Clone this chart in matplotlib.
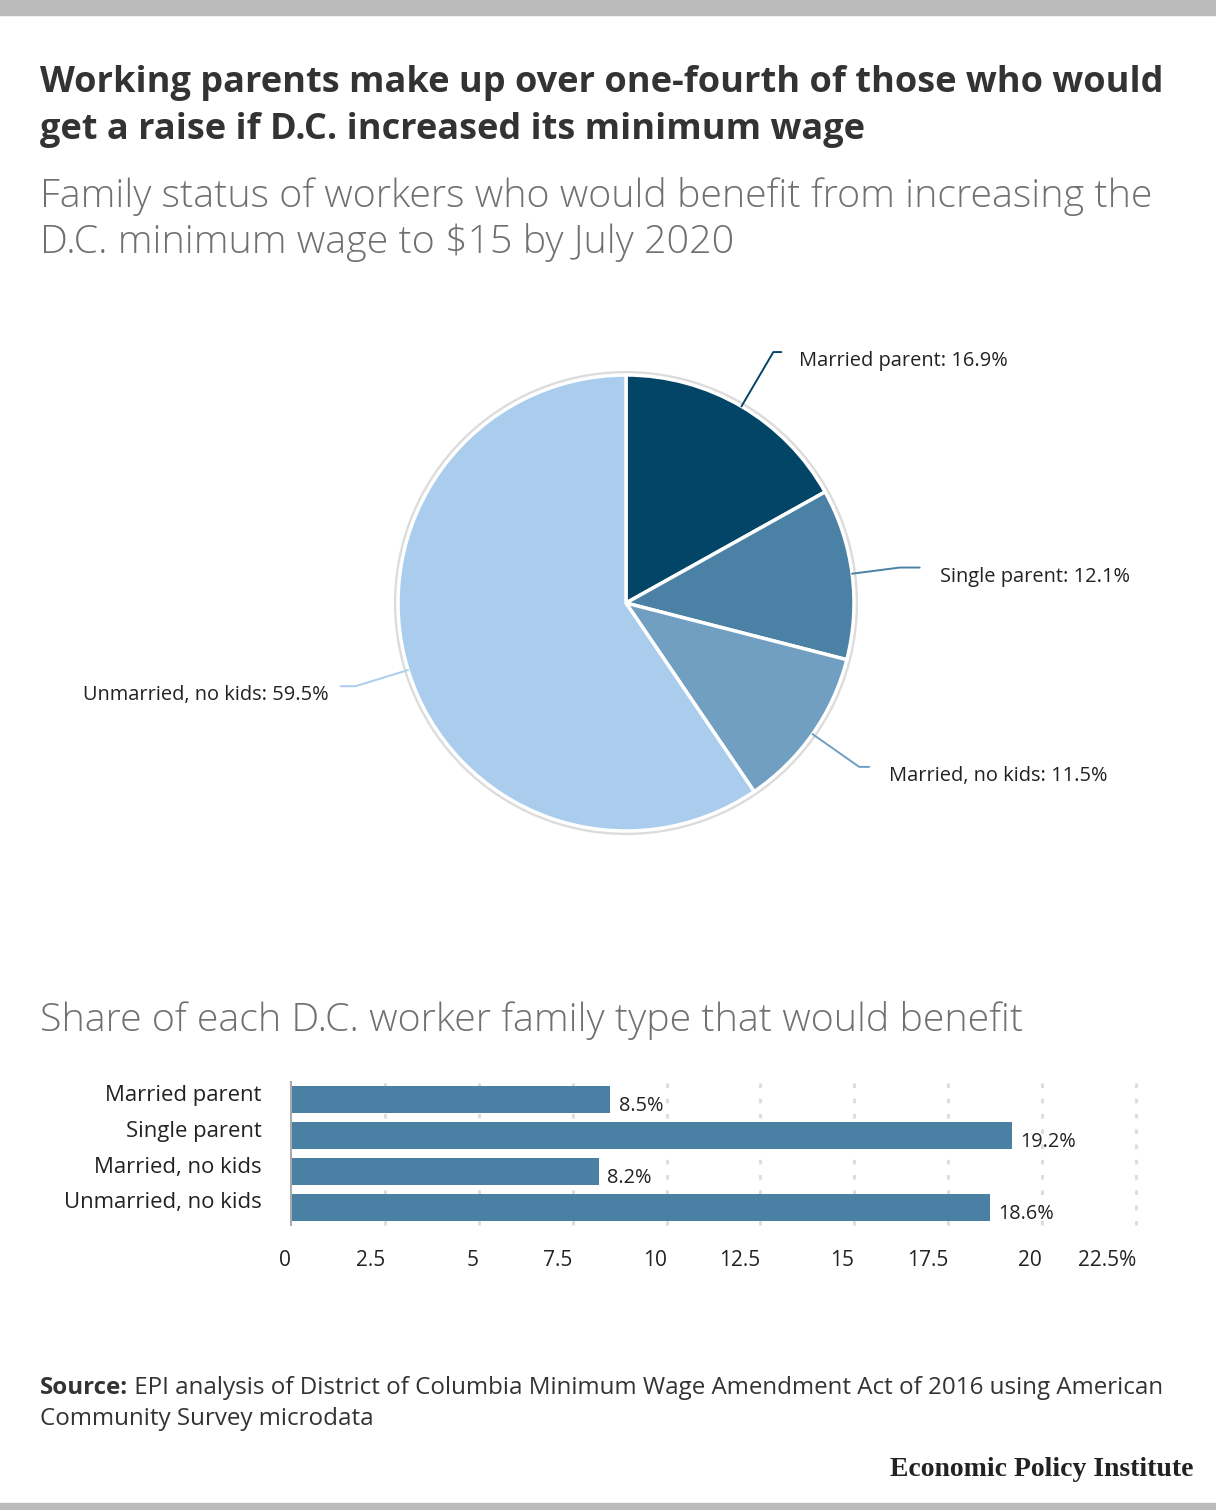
import numpy as np
import matplotlib
matplotlib.use("Agg")
import matplotlib.pyplot as plt
from matplotlib.patches import Circle, Rectangle
from matplotlib.transforms import ScaledTranslation

plt.rcParams["font.family"] = ["Open Sans", "DejaVu Sans"]

W, H = 1216, 1510

# pie: family status of benefiting workers
pie_labels = ["Married parent", "Single parent", "Married, no kids", "Unmarried, no kids"]
pie_values = [16.9, 12.1, 11.5, 59.5]
pie_colors = ["#034566", "#4b81a4", "#709fc2", "#aacdee"]

# bars: share of each family type that would benefit
bar_labels = ["Married parent", "Single parent", "Married, no kids", "Unmarried, no kids"]
bar_values = [8.5, 19.2, 8.2, 18.6]
x_ticks = [0, 2.5, 5, 7.5, 10, 12.5, 15, 17.5, 20, 22.5]
x_ticklabels = ["0", "2.5", "5", "7.5", "10", "12.5", "15", "17.5", "20", "22.5%"]


def fx(px):
    return px / W


def fy(py):
    return 1 - py / H


fig = plt.figure(figsize=(W / 100, H / 100), dpi=100)
bg = fig.add_axes([0, 0, 1, 1])
bg.set_xlim(0, W); bg.set_ylim(H, 0); bg.axis("off")
bg.add_patch(Rectangle((0, 0), W, 15, color="#bbbbbb"))
bg.add_patch(Rectangle((0, 1503), W, 7, color="#bbbbbb"))

# titles
title_kw = dict(fontsize=26, fontweight="bold", color="#333333", va="center")
bg.text(40, 83, "Working parents make up over one-fourth of those who would", **title_kw)
bg.text(40, 130, "get a raise if D.C. increased its minimum wage", **title_kw)
sub_kw = dict(fontsize=28.4, fontweight="light", color="#707070", va="center")
bg.text(40, 196, "Family status of workers who would benefit from increasing the", **sub_kw)
bg.text(40, 243, "D.C. minimum wage to $15 by July 2020", **sub_kw)
bg.text(40, 1020, "Share of each D.C. worker family type that would benefit", **sub_kw)

# pie
cx, cy, R = 626, 603, 228
half = 420
pax = fig.add_axes([fx(cx - half), fy(cy + half), 2 * half / W, 2 * half / H])
pax.add_patch(Circle((0, 0), R + 2, facecolor="none", edgecolor="#dcdcdc", lw=3, zorder=0))
wedges, _ = pax.pie(pie_values, colors=pie_colors, startangle=90, counterclock=False,
                    radius=R, wedgeprops=dict(edgecolor="white", linewidth=2.5))
pax.set_xlim(-half, half); pax.set_ylim(-half, half)
pax.set_aspect("equal"); pax.axis("off")

bend_r = [291, 276, 285, 283]
hooks = [8, 20, 10, 15]
gaps = [18, 20, 20, 12]
for w, lab, val, col, rb, hk, gp in zip(wedges, pie_labels, pie_values, pie_colors,
                                        bend_r, hooks, gaps):
    ang = np.deg2rad((w.theta1 + w.theta2) / 2)
    side = 1 if np.cos(ang) > 0 else -1
    x0, y0 = R * np.cos(ang), R * np.sin(ang)
    x1, y1 = rb * np.cos(ang), rb * np.sin(ang)
    x2 = x1 + side * hk
    pax.plot([x0, x1, x2], [y0, y1, y1], color=col, lw=1.4, solid_capstyle="round")
    pax.text(x2 + side * gp, y1 - 9, f"{lab}: {val}%", ha="left" if side > 0 else "right",
             va="center", fontsize=14.4, color="#222222")

# bars
top, bot = 1082, 1225.4
bax = fig.add_axes([fx(291), fy(bot), fx(1136) - fx(291), (bot - top) / H])
y = np.arange(len(bar_values))
bax.barh(y, bar_values, height=0.75, color="#4a80a3", zorder=2)
bax.set_ylim(len(bar_values) - 0.5, -0.5)
bax.set_xlim(0, 22.5)
for t in x_ticks[1:]:
    bax.axvline(t, color="#dddddd", lw=2.2, ls=(0, (1.5, 3.5)), zorder=1, clip_on=False)
for s in ("top", "right", "bottom"):
    bax.spines[s].set_visible(False)
bax.spines["left"].set_color("#aaaaaa")
bax.spines["left"].set_linewidth(1.5)
bax.set_xticks(x_ticks)
bax.set_xticklabels(x_ticklabels, ha="right")
bax.tick_params(axis="x", length=0, pad=18, labelsize=15, colors="#222222")
bax.set_yticks(y)
bax.set_yticklabels(bar_labels)
bax.tick_params(axis="y", length=0, pad=21, labelsize=15.9, colors="#222222")
lift = ScaledTranslation(0, 7 / 100, fig.dpi_scale_trans)
for lbl in bax.get_yticklabels():
    lbl.set_transform(lbl.get_transform() + lift)
for yi, v in zip(y, bar_values):
    bax.annotate(f"{v}%", (v, yi), xytext=(6, -4.5), textcoords="offset points",
                 ha="left", va="center", fontsize=14.3, color="#222222")

# source and logo
src = bg.text(40, 1388, "Source:", fontsize=17.4, fontweight="bold", color="#333333", va="center")
bg.annotate(" EPI analysis of District of Columbia Minimum Wage Amendment Act of 2016 using American",
            xy=(1, 0), xycoords=src, va="bottom", fontsize=17.4, color="#333333")
bg.text(40, 1419, "Community Survey microdata", fontsize=17.4, color="#333333", va="center")
bg.text(1193, 1469, "Economic Policy Institute", fontsize=20, fontweight="bold",
        family="Liberation Serif", color="#222222", ha="right", va="center")

fig.savefig("out.png", dpi=100)
